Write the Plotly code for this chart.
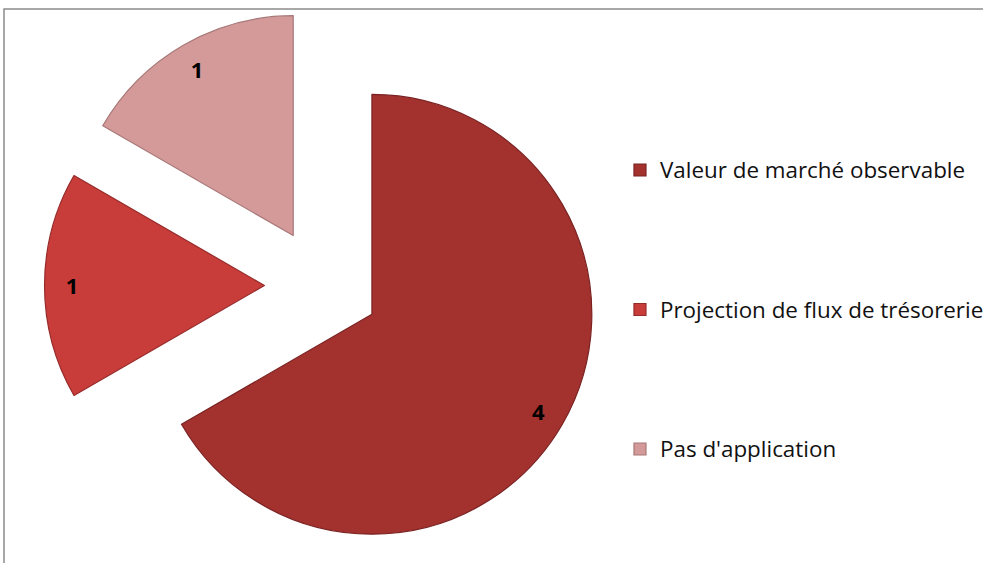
"""Camembert éclaté : méthodes de valorisation (Plotly)."""
import plotly.graph_objects as go

labels = ["Valeur de marché observable", "Projection de flux de trésorerie", "Pas d'application"]
values = [4, 1, 1]
colors = ["#a3322f", "#c83c3a", "#d49a9a"]
edge_colors = ["#7a2222", "#962b2a", "#a87878"]

PULL = 0.262
DOMAIN = dict(x=[0.0453, 0.6099], y=[0.0, 0.9858])

# légende : texte un peu plus grand, lignes vides au-dessus pour espacer les entrées
legend_labels = ['<span style="font-size:22.4px">' + lab + "</span>" for lab in labels]
legend_labels = [legend_labels[0]] + [" <br>" * 4 + lab for lab in legend_labels[1:]]

fig = go.Figure()
# secteurs
fig.add_trace(go.Pie(
    labels=legend_labels, values=values, sort=False, direction="clockwise",
    rotation=0, pull=[PULL] * len(values), domain=DOMAIN,
    marker=dict(colors=colors, line=dict(color=edge_colors, width=1.2)),
    textinfo="none", hoverinfo="skip", showlegend=True,
))
# étiquettes de valeurs (même géométrie, secteurs transparents, trou pour pousser le texte vers l'extérieur)
fig.add_trace(go.Pie(
    labels=legend_labels, values=values, sort=False, direction="clockwise",
    rotation=0, pull=[PULL] * len(values), domain=DOMAIN, hole=0.75,
    marker=dict(colors=["rgba(0,0,0,0)"] * len(values), line=dict(width=0)),
    textinfo="value", textposition="inside", insidetextorientation="horizontal",
    textfont=dict(family="Open Sans", size=22, color="#000000", weight="bold"),
    hoverinfo="skip", showlegend=False,
))

fig.update_layout(
    width=983, height=563,
    margin=dict(l=0, r=0, t=0, b=0, autoexpand=False),
    paper_bgcolor="white", plot_bgcolor="white",
    legend=dict(
        xref="paper", yref="paper", x=0.6307, y=0.7338,
        xanchor="left", yanchor="top", valign="bottom",
        font=dict(family="Open Sans", size=21, color="#111111"),
        bgcolor="rgba(0,0,0,0)", borderwidth=0,
    ),
    shapes=[dict(
        type="rect", xref="paper", yref="paper",
        x0=4 / 983, x1=1.02, y0=-0.02, y1=1 - 9 / 563,
        line=dict(color="#8c8c8c", width=1.5), fillcolor="rgba(0,0,0,0)",
    )],
)

fig.write_html("out.html", config={"displayModeBar": False},
               post_script="document.body.style.margin = '0';")
